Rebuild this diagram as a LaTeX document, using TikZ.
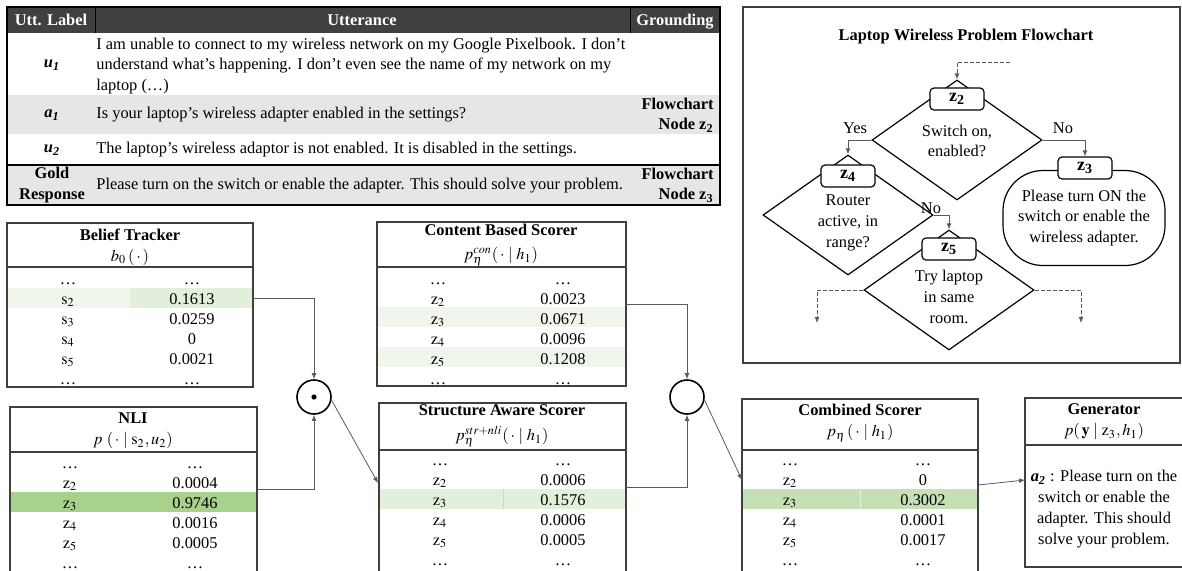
\documentclass[tikz,border=0pt]{standalone}
\usepackage{mathptmx}
\usepackage{fontspec}
\setmainfont{Liberation Serif}
\usepackage{tikz}
\usetikzlibrary{shapes,arrows.meta}
\definecolor{hdr_gray}{RGB}{64,64,64}
\definecolor{row_gray}{RGB}{231,230,230}
\definecolor{wire_gray}{RGB}{90,90,90}
\definecolor{hl_dark}{RGB}{169,209,142}
\definecolor{hl_mid}{RGB}{197,224,180}
\definecolor{hl_light}{RGB}{226,239,218}
\definecolor{hl_pale}{RGB}{240,246,236}
\newcommand{\fsz}{\fontsize{8.2}{10.4}\selectfont}
\tikzstyle{dia}=[diamond,draw=black,line width=0.6pt,inner sep=0pt,
  minimum width=85pt,minimum height=60pt]
\tikzstyle{zbox}=[rectangle,rounded corners=2pt,draw=black,fill=white,
  line width=0.6pt,inner sep=0pt,minimum width=27pt,minimum height=11pt,
  font=\fontsize{9}{10}\selectfont\bfseries]
\tikzstyle{term}=[rectangle,rounded corners=20pt,draw=black,line width=0.6pt,
  align=center,minimum width=81pt,minimum height=47.5pt]
\tikzstyle{op}=[circle,draw=black,line width=0.8pt,inner sep=0pt,minimum size=17pt]
\tikzstyle{cell}=[anchor=base,inner sep=0pt]
\tikzstyle{hd}=[align=center,inner sep=0pt]
\tikzstyle{frame}=[draw=hdr_gray,line width=0.6pt]
\tikzstyle{wire}=[draw=wire_gray,line width=0.4pt,-{Latex[length=3pt,width=2.4pt]}]

\begin{document}
\fsz
\begin{tikzpicture}[x=0.5pt,y=-0.5pt,font=\fsz]
    \useasboundingbox (0,0) rectangle (1182,570);
    % dialogue table
    \fill[hdr_gray] (7,7) rectangle (720,33);
    \fill[row_gray] (7,95) rectangle (720,134);
    \fill[row_gray] (7,165) rectangle (720,205);
    \draw[black,line width=0.6pt] (7,7) rectangle (720,205);
    \draw[black,line width=1pt] (7,165) -- (720,165);
    \draw[black] (95,7) -- (95,33);
    \draw[black] (630,7) -- (630,33);
    \node[cell,text=white,font=\fsz\bfseries] (hlab) at (51,25) {Utt. Label};
    \node[cell,text=white,font=\fsz\bfseries] (hutt) at (362,25) {Utterance};
    \node[cell,text=white,font=\fsz\bfseries] (hgnd) at (675,25) {Grounding};
    \node[hd] (lu1) at (52,65) {\textbf{\textit{u\textsubscript{1}}}};
    \node[hd,anchor=west,align=left] (tu1) at (96,66) {I am unable to connect to my wireless network on my Google Pixelbook. I don't\\
      understand what's happening. I don't even see the name of my network on my\\ laptop (\dots)};
    \node[hd] (la1) at (52,115) {\textbf{\textit{a\textsubscript{1}}}};
    \node[hd,anchor=west] (ta1) at (96,115) {Is your laptop's wireless adapter enabled in the settings?};
    \node[hd,anchor=east,align=right,font=\fsz\bfseries] (ga1) at (714,115) {Flowchart\\ Node z\textsubscript{2}};
    \node[hd] (lu2) at (52,150) {\textbf{\textit{u\textsubscript{2}}}};
    \node[hd,anchor=west] (tu2) at (96,150) {The laptop's wireless adaptor is not enabled. It is disabled in the settings.};
    \node[hd,font=\fsz\bfseries] (lgold) at (52,185) {Gold\\ Response};
    \node[hd,anchor=west] (tgold) at (96,186) {Please turn on the switch or enable the adapter. This should solve your problem.};
    \node[hd,anchor=east,align=right,font=\fsz\bfseries] (ggold) at (714,185) {Flowchart\\ Node z\textsubscript{3}};

    % flowchart
    \draw[draw=hdr_gray,line width=1.2pt] (743,7) rectangle (1180,363);
    \node[hd,font=\fsz\bfseries] (ftitle) at (966,37) {Laptop Wireless Problem Flowchart};
    \node[dia] (d2) at (957,140) {};
    \node[dia] (d4) at (848,215) {};
    \node[dia] (d5) at (949,290) {};
    \node[term] (t3) at (1084,218) {Please turn ON the\\ switch or enable the\\ wireless adapter.};
    \node[zbox] (z2) at (957,99) {z\textsubscript{2}};
    \node[zbox] (z4) at (848,176) {z\textsubscript{4}};
    \node[zbox] (z5) at (949,249) {z\textsubscript{5}};
    \node[zbox] (z3) at (1085,168) {z\textsubscript{3}};
    \node[hd] (q2) at (957,141) {Switch on,\\ enabled?};
    \node[hd] (q4) at (848,223) {Router\\ active, in\\ range?};
    \node[hd] (q5) at (949,297) {Try laptop\\ in same\\ room.};
    \coordinate (start) at (1010,62);
    \coordinate (l5) at (817,323);
    \coordinate (r5) at (1081,323);
    \draw[wire,dashed,dash pattern=on 2pt off 1pt] (start) -| (d2.north);
    \draw[wire] (d2.west) -| (d4.north);
    \draw[wire] (d2.east) -| (z3.north);
    \draw[wire] (d4.east) -| (d5.north);
    \draw[wire,dashed,dash pattern=on 2pt off 1pt] (d5.west) -| (l5);
    \draw[wire,dashed,dash pattern=on 2pt off 1pt] (d5.east) -| (r5);
    \node[hd] (yes2) at (855,128) {Yes};
    \node[hd] (no2) at (1063,128) {No};
    \node[hd] (no4) at (931,208) {No};

    % belief tracker
    \fill[hl_pale] (7,288) rectangle (130,308);
    \fill[hl_light] (130,288) rectangle (253,308);
    \draw[frame] (7,223) rectangle (253,387);
    \draw[frame,line width=0.8pt] (7,267) -- (253,267);
    \node[hd] (bt) at (130,247) {\textbf{Belief Tracker}\\ $b_0\,(\,\cdot\,)$};
    \foreach \a/\b/\yy in {\dots/\dots/284, $\mathrm{s}_2$/0.1613/304, $\mathrm{s}_3$/0.0259/324,
        $\mathrm{s}_4$/0/344, $\mathrm{s}_5$/0.0021/364, \dots/\dots/384} {
      \node[cell] (bt-l-\yy) at (68,\yy) {\a};
      \node[cell] (bt-r-\yy) at (192,\yy) {\b};
    }

    % nli
    \fill[hl_dark] (10,492) rectangle (257,512);
    \draw[frame] (10,407) rectangle (257,575);
    \draw[frame,line width=0.8pt] (10,452) -- (257,452);
    \node[hd] (nli) at (133,431) {\textbf{NLI}\\ $p\ (\,\cdot\mid \mathrm{s}_2, u_2)$};
    \foreach \a/\b/\yy in {\dots/\dots/468, $\mathrm{z}_2$/0.0004/488, $\mathrm{z}_3$/0.9746/508,
        $\mathrm{z}_4$/0.0016/528, $\mathrm{z}_5$/0.0005/548, \dots/\dots/568} {
      \node[cell] (nli-l-\yy) at (70,\yy) {\a};
      \node[cell] (nli-r-\yy) at (195,\yy) {\b};
    }

    % content based scorer
    \fill[hl_pale] (377,307) rectangle (626,327);
    \fill[hl_pale] (377,347) rectangle (626,367);
    \draw[frame] (377,222) rectangle (626,386);
    \draw[frame,line width=0.8pt] (377,267) -- (626,267);
    \node[hd] (con) at (501,245) {\textbf{Content Based Scorer}\\[2pt] $p_\eta^{con}(\,\cdot\mid h_1)$};
    \foreach \a/\b/\yy in {\dots/\dots/284, $\mathrm{z}_2$/0.0023/304, $\mathrm{z}_3$/0.0671/324,
        $\mathrm{z}_4$/0.0096/344, $\mathrm{z}_5$/0.1208/364, \dots/\dots/384} {
      \node[cell] (con-l-\yy) at (438,\yy) {\a};
      \node[cell] (con-r-\yy) at (563,\yy) {\b};
    }

    % structure aware scorer
    \fill[hl_light] (379,489) rectangle (626,509);
    \draw[hl_mid,line width=0.3pt] (503,489) -- (503,509);
    \draw[frame] (379,403) rectangle (626,575);
    \draw[frame,line width=0.8pt] (379,450) -- (626,450);
    \node[hd] (str) at (502,426) {\textbf{Structure Aware Scorer}\\[2pt] $p_\eta^{str+nli}(\,\cdot\mid h_1)$};
    \foreach \a/\b/\yy in {\dots/\dots/465, $\mathrm{z}_2$/0.0006/485, $\mathrm{z}_3$/0.1576/505,
        $\mathrm{z}_4$/0.0006/525, $\mathrm{z}_5$/0.0005/545, \dots/\dots/565} {
      \node[cell] (str-l-\yy) at (440,\yy) {\a};
      \node[cell] (str-r-\yy) at (563,\yy) {\b};
    }

    % combined scorer
    \fill[hl_mid] (742,489) rectangle (978,509);
    \draw[hl_light,line width=0.3pt] (860,489) -- (860,509);
    \draw[frame] (742,399) rectangle (978,575);
    \draw[frame,line width=0.8pt] (742,450) -- (978,450);
    \node[hd] (cmb) at (860,423) {\textbf{Combined Scorer}\\ $p_\eta\,(\,\cdot\mid h_1)$};
    \foreach \a/\b/\yy in {\dots/\dots/465, $\mathrm{z}_2$/0/485, $\mathrm{z}_3$/0.3002/505,
        $\mathrm{z}_4$/0.0001/525, $\mathrm{z}_5$/0.0017/545, \dots/\dots/565} {
      \node[cell] (cmb-l-\yy) at (790,\yy) {\a};
      \node[cell] (cmb-r-\yy) at (923,\yy) {\b};
    }

    % generator
    \draw[frame] (1025,398) rectangle (1186,567);
    \draw[frame,line width=0.8pt] (1025,445) -- (1186,445);
    \node[hd] (gen) at (1104,422) {\textbf{Generator}\\ $p(\,\mathbf{y}\mid \mathrm{z}_3, h_1)$};
    \node[hd] (gtext) at (1104,509) {\textbf{\textit{a\textsubscript{2}}} : Please turn on the\\ switch or enable the\\ adapter. This should\\ solve your problem.};

    % operators and links
    \node[op] (odot) at (314,397) {};
    \fill (odot) circle (2.6);
    \node[op] (osum) at (687,397) {};
    \coordinate (btout) at (253,298);
    \coordinate (nliout) at (257,489);
    \coordinate (strin) at (378,483);
    \coordinate (conout) at (626,304);
    \coordinate (strout) at (626,487);
    \coordinate (cmbin) at (742,480);
    \coordinate (cmbout) at (978,485);
    \coordinate (genin) at (1025,480);
    \draw[wire] (btout) -| (odot.north);
    \draw[wire] (nliout) -| (odot.south);
    \draw[wire] (odot.-10) -- (strin);
    \draw[wire] (conout) -| (osum.north);
    \draw[wire] (strout) -| (osum.south);
    \draw[wire] (osum.-10) -- (cmbin);
    \draw[wire] (cmbout) -- (genin);
  \end{tikzpicture}
\end{document}
